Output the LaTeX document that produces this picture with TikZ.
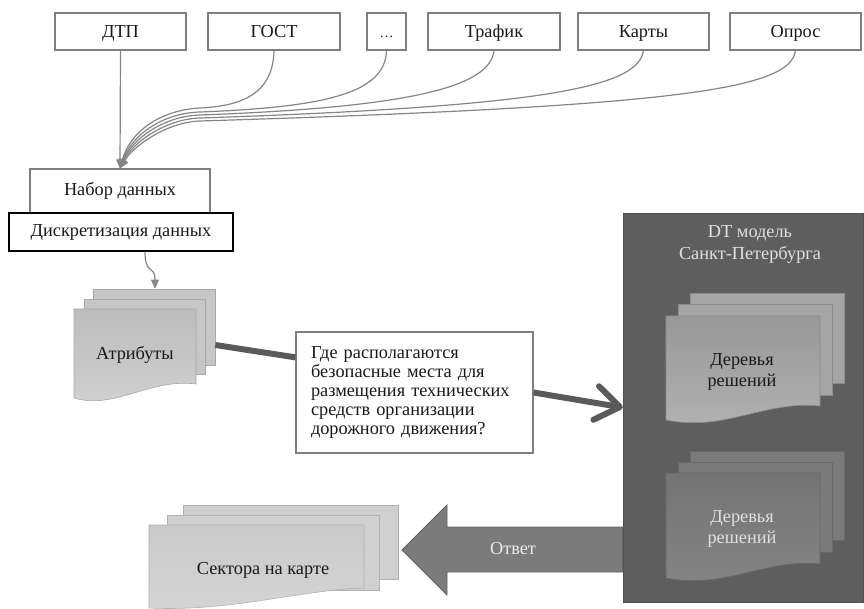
\documentclass[tikz,border=0pt]{standalone}
\usepackage{fontspec}
\setmainfont{Liberation Serif}
\usepackage{tikz}
\usetikzlibrary{arrows.meta}
\usetikzlibrary{calc}

\definecolor{framegrey}{HTML}{7F7F7F}
\definecolor{feedgrey}{HTML}{858585}
\definecolor{bargrey}{HTML}{5A5A5A}
\definecolor{dtgrey}{HTML}{5E5E5E}
\definecolor{attrgrey}{HTML}{C6C6C6}
\definecolor{treegrey}{HTML}{A5A5A5}
\definecolor{darktree}{HTML}{7A7A7A}
\definecolor{sectgrey}{HTML}{D0D0D0}
\definecolor{answergrey}{HTML}{7B7B7B}

\begin{document}
\begin{tikzpicture}[x=1pt, y=-1pt,
    every node/.style={font=\fontsize{18.3}{19}\selectfont, text=black!90},
    srcbox/.style={draw=framegrey, line width=1.3pt, fill=white, minimum height=37pt, inner sep=0pt,
        text height=14pt, text depth=1pt},
    feed/.style={draw=feedgrey, line width=1.2pt, -{Triangle[length=9pt, width=8pt]}},
    sheet/.style={draw=#1!85!black, fill=#1, line width=0.6pt, inner sep=0pt},
    bar/.style={draw=bargrey, line width=6pt}]

    \useasboundingbox (0,0) rectangle (864,609);

    % source boxes
    \node[srcbox, minimum width=131pt] (dtp) at (120.5,31.5) {ДТП};
    \node[srcbox, minimum width=132pt] (gost) at (274,31.5) {ГОСТ};
    \node[srcbox, minimum width=39pt] (dots) at (386.5,31.5) {\fontsize{14}{15}\selectfont\dots};
    \node[srcbox, minimum width=132pt] (traf) at (494,31.5) {Трафик};
    \node[srcbox, minimum width=131pt] (karty) at (643.5,31.5) {Карты};
    \node[srcbox, minimum width=131pt] (opros) at (795.5,31.5) {Опрос};

    % data set
    \node[draw=framegrey, line width=1.3pt, fill=white, minimum width=180pt, minimum height=44pt
        ] (nabor) at (120,191) {Набор данных};
    \node[draw=black, line width=1.3pt, fill=white, minimum width=224pt, minimum height=38pt
        ] (disc) at (121,232) {Дискретизация данных};

    \draw[feed] (dtp.south) -- (nabor.north);
    \draw[feed] (gost.south) .. controls (273,95) and (240,106) .. (200,108)
        .. controls (160,110) and (130,132) .. (nabor.north);
    \draw[feed] (dots.south) .. controls (385,92) and (330,107) .. (200,112)
        .. controls (162,113) and (131,136) .. (nabor.north);
    \draw[feed] (traf.south) .. controls (490,85) and (420,107) .. (200,115)
        .. controls (164,116) and (132,139) .. (nabor.north);
    \draw[feed] (karty.south) .. controls (638,85) and (560,106) .. (200,118)
        .. controls (166,119) and (133,142) .. (nabor.north);
    \draw[feed] (opros.south) .. controls (790,88) and (690,106) .. (200,121)
        .. controls (168,122) and (134,145) .. (nabor.north);

    % attributes
    \node[sheet=attrgrey, minimum width=122pt, minimum height=76pt] (attrback) at (154,327) {};
    \node[sheet=attrgrey, minimum width=121pt, minimum height=75pt] (attrmid) at (144.5,336.5) {};
    \path[draw=attrgrey!85!black, line width=0.6pt, top color=attrgrey!95!black, bottom color=attrgrey!80!white]
        (74,309) -- (196,309) -- (196,384) .. controls (150,378) and (115,410) .. (74,398) -- cycle;
    \node (attr) at (135,355) {Атрибуты};
    \coordinate (attrtop) at ($(attrback.north)+(1,0)$);

    \draw[feed] ($(disc.south)+(24,0)$) .. controls (145,276) and (155,264) .. (attrtop);

    % question
    \node[draw=framegrey, line width=1.3pt, fill=white, text width=207pt, align=left,
        inner xsep=15pt, minimum height=121pt] (q) at (414.5,392.5)
        {Где располагаются\\безопасные места для\\размещения технических\\средств организации\\дорожного движения?};
    \coordinate (attrout) at ($(attrback.east)+(0,18)$);
    \coordinate (qin) at ($(q.north west)+(0,26)$);
    \draw[bar] (attrout) -- (qin);

    % DT model
    \node[draw=dtgrey!85!black, fill=dtgrey, minimum width=240pt, minimum height=389pt, inner sep=0pt
        ] (dt) at (743,407.5) {};
    \node[align=center, text=white!88!black, font=\fontsize{18.3}{22}\selectfont] (dttitle) at (750,244)
        {DT модель\\Санкт-Петербурга};

    \draw[bar, -{Straight Barb[length=24pt, width=34pt, round]}] (q.east) -- (dt.west);

    % trees, upper
    \node[sheet=treegrey, minimum width=154pt, minimum height=90pt] (treeback) at (767,338) {};
    \node[sheet=treegrey, minimum width=154pt, minimum height=91pt] (treemid) at (755,349.5) {};
    \path[draw=treegrey!85!black, line width=0.6pt, top color=treegrey!92!black, bottom color=treegrey!85!white]
        (666,316) -- (820,316) -- (820,406) .. controls (765,400) and (725,432) .. (666,420) -- cycle;
    \node[align=center, font=\fontsize{18.3}{21}\selectfont] (tree) at (742,372) {Деревья\\решений};

    % trees, lower
    \node[sheet=darktree, minimum width=154pt, minimum height=89pt] (dtreeback) at (767,495.5) {};
    \node[sheet=darktree, minimum width=154pt, minimum height=90pt] (dtreemid) at (755,507) {};
    \path[draw=darktree!85!black, line width=0.6pt, top color=darktree!95!black, bottom color=darktree!92!white]
        (666,473) -- (820,473) -- (820,564) .. controls (765,558) and (725,590) .. (666,578) -- cycle;
    \node[align=center, text=white!88!black, font=\fontsize{18.3}{21}\selectfont] (dtree) at (742,529) {Деревья\\решений};

    % answer
    \draw[draw=answergrey!80!black, fill=answergrey, line width=0.8pt]
        (dt.west |- 0,527) -- (447,527) -- (447,505) -- (402,550) -- (447,595) -- (447,572)
        -- (dt.west |- 0,572) -- cycle;
    \node[text=white!92!black] (answer) at (513,549) {Ответ};

    % map sectors
    \node[sheet=sectgrey, minimum width=215pt, minimum height=74pt] (sectback) at (290.5,542) {};
    \node[sheet=sectgrey, minimum width=212pt, minimum height=75pt] (sectmid) at (273,552.5) {};
    \path[draw=sectgrey!85!black, line width=0.6pt, top color=sectgrey!97!black, bottom color=sectgrey!90!white]
        (149,525) -- (364,525) -- (364,588) .. controls (300,590) and (230,612) .. (149,608) -- cycle;
    \node (sect) at (263,570) {Сектора на карте};

\end{tikzpicture}
\end{document}
